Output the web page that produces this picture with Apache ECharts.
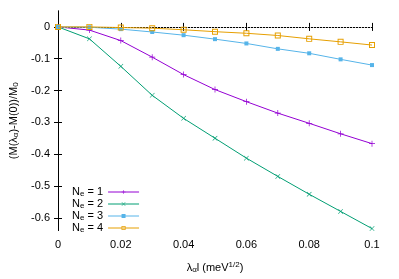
<!DOCTYPE html>
<html><head><meta charset="utf-8">
<script src="https://cdn.jsdelivr.net/npm/echarts@6/dist/echarts.min.js"></script>
<style>html,body{margin:0;padding:0;background:#fff}#c{width:399px;height:279px}</style>
</head><body><div id="c"></div>
<script>
const xValues = [0, 0.01, 0.02, 0.03, 0.04, 0.05, 0.06, 0.07, 0.08, 0.09, 0.1];
const ne1 = [0, -0.010, -0.043, -0.095, -0.150, -0.197, -0.235, -0.271, -0.303, -0.336, -0.367];
const ne2 = [0, -0.0375, -0.124, -0.215, -0.2875, -0.350, -0.4125, -0.470, -0.526, -0.580, -0.634];
const ne3 = [0, -0.001, -0.007, -0.016, -0.026, -0.0385, -0.052, -0.069, -0.083, -0.102, -0.120];
const ne4 = [0, 0.000, -0.002, -0.004, -0.009, -0.015, -0.020, -0.027, -0.0375, -0.047, -0.057];
const seriesNames = ['1', '2', '3', '4'];
const xTicks = [0, 0.02, 0.04, 0.06, 0.08, 0.1];
const yTicks = [-0.6, -0.5, -0.4, -0.3, -0.2, -0.1, 0];

const colors = ['#9400d3', '#009e73', '#56b4e9', '#e69f00'];
const font = 'Liberation Sans, Arial, sans-serif';

function pairs(ys) { return xValues.map((x, i) => [x, ys[i]]); }

const chart = echarts.init(document.getElementById('c'));
const symbols = [
  {symbol: 'path://M4.4,0H5.6V4.4H10V5.6H5.6V10H4.4V5.6H0V4.4H4.4Z', symbolSize: 6},
  {symbol: 'path://M0.8,0L5,4.2L9.2,0L10,0.8L5.8,5L10,9.2L9.2,10L5,5.8L0.8,10L0,9.2L4.2,5L0,0.8Z', symbolSize: 5},
  {symbol: 'rect', symbolSize: 4},
  {symbol: 'path://M0,0H10V10H0Z M1.6,1.6V8.4H8.4V1.6Z', symbolSize: 6}
];
const data = [ne1, ne2, ne3, ne4];
const series = data.map((d, i) => ({
  name: seriesNames[i],
  type: 'line',
  data: pairs(d),
  symbol: symbols[i].symbol,
  symbolSize: symbols[i].symbolSize,
  showAllSymbol: true,
  lineStyle: {width: 1, color: colors[i]},
  itemStyle: {color: colors[i], borderWidth: 0},
  emphasis: {disabled: true},
  animation: false,
  z: 3 + i
}));
series.push({
  type: 'line', data: [], silent: true, animation: false,
  markLine: {
    silent: true, symbol: ['none', 'none'], label: {show: false},
    lineStyle: {color: '#cccccc', type: [1, 2], width: 1},
    data: [{yAxis: 0}], animation: false
  }
});

const axisCommon = {
  axisLine: {show: true, lineStyle: {color: '#000', width: 1}},
  splitLine: {show: false}
};

chart.setOption({
  animation: false,
  grid: {left: 54, right: 27, top: 11, bottom: 47},
  legend: {
    data: seriesNames,
    left: 67, top: 181, orient: 'vertical', align: 'right',
    itemWidth: 31, itemHeight: 5, itemGap: 0,
    lineStyle: {width: 1},
    textStyle: {
      fontFamily: font, fontSize: 11, color: '#000', lineHeight: 11,
      rich: {
        n: {fontFamily: font, fontSize: 11, color: '#000', lineHeight: 11},
        s: {fontFamily: font, fontSize: 8, color: '#000', lineHeight: 11, padding: [4, 0, 0, 0]}
      }
    },
    formatter: n => '{n|N}{s|e}{n| = ' + n + '}'
  },
  xAxis: [{
    type: 'value', min: 0, max: 0.1, position: 'bottom',
    ...axisCommon,
    axisTick: {show: true, inside: true, length: 4, customValues: xTicks, lineStyle: {color: '#000'}},
    axisLabel: {customValues: xTicks, fontFamily: font, fontSize: 11, color: '#000', margin: 9,
      formatter: v => String(+v.toFixed(2))},
    name: '{n|λ}{s|α}{n|l (meV}{p|1/2}{n|)}', nameLocation: 'middle', nameGap: 30,
    nameTextStyle: {fontFamily: font, fontSize: 11, color: '#000', rich: {
      n: {fontFamily: font, fontSize: 11, color: '#000'},
      s: {fontFamily: font, fontSize: 8, color: '#000', padding: [5, 0, 0, 0]},
      p: {fontFamily: font, fontSize: 8, color: '#000', padding: [0, 0, 6, 0]}
    }}
  }, {
    type: 'value', min: 0, max: 0.1, position: 'top',
    ...axisCommon,
    axisTick: {show: true, inside: true, length: 4, customValues: xTicks, lineStyle: {color: '#000'}},
    axisLabel: {show: false}
  }],
  yAxis: [{
    type: 'value', min: -0.64, max: 0.05, position: 'left',
    ...axisCommon,
    axisTick: {show: true, inside: true, length: 4, customValues: yTicks, lineStyle: {color: '#000'}},
    axisLabel: {customValues: yTicks, fontFamily: font, fontSize: 11, color: '#000', margin: 8,
      formatter: v => String(+v.toFixed(1))},
    name: '(M(λ{s|α})-M(0))/M{s|0}', nameLocation: 'middle', nameGap: 38, nameRotate: 90,
    nameTextStyle: {fontFamily: font, fontSize: 11, color: '#000', rich: {
      s: {fontFamily: font, fontSize: 8, color: '#000', padding: [5, 0, 0, 0]}
    }}
  }, {
    type: 'value', min: -0.64, max: 0.05, position: 'right',
    ...axisCommon,
    axisTick: {show: true, inside: true, length: 4, customValues: yTicks, lineStyle: {color: '#000'}},
    axisLabel: {show: false}
  }],
  series: series
});
</script>
</body></html>
